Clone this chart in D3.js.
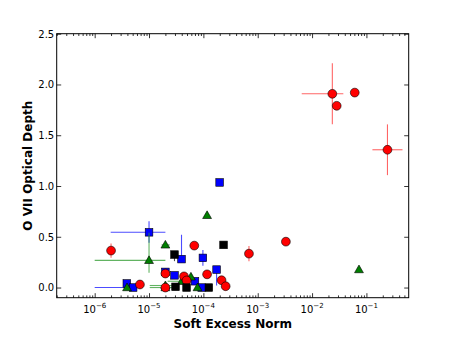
<!DOCTYPE html>
<html>
<head>
<meta charset="utf-8">
<script src="https://cdn.jsdelivr.net/npm/d3@7"></script>
<style>
  html, body { margin: 0; padding: 0; background: #fff; }
  svg { display: block; font-family: "DejaVu Sans", sans-serif; }
</style>
</head>
<body>
<svg id="chart" width="454" height="341"></svg>
<script>
// ---------- data ----------
const xTickValues = [1e-6, 1e-5, 1e-4, 1e-3, 1e-2, 1e-1];
const yTickValues = [0.0, 0.5, 1.0, 1.5, 2.0, 2.5];
const yTickLabels = ["0.0", "0.5", "1.0", "1.5", "2.0", "2.5"];

// blue squares
const blueX = [1e-5, 3.9e-6, 5.1e-6, 2e-5, 2.94e-5, 3.96e-5, 9.8e-5, 1.75e-4, 1.99e-4, 7e-5, 9.3e-5];
const blueY = [0.544, 0.04, 0.0, 0.154, 0.12, 0.28, 0.292, 0.177, 1.035, 0.062, 0.0];
const blueXErr = [[1.97e-6, 2e-5], null, [1e-6, 5.1e-6], null, null, null, [8.8e-5, 1.08e-4], null, null, null, null];
const blueYErr = [[0.44, 0.652], null, null, null, null, [0.25, 0.52], [0.215, 0.37], [0.02, 0.177], null, null, null];

// green triangles
const greenX = [1e-5, 2e-5, 1.17e-4, 3.94e-6, 7.8e-5, 5.9e-5, 4e-5, 2e-5, 2e-5, 0.073];
const greenY = [0.268, 0.42, 0.711, 0.0, 0.0, 0.105, 0.062, 0.0, 0.02, 0.177];
const greenXErr = [[1e-6, 2e-5], [1.7e-5, 2.4e-5], null, null, null, null, [2.2e-5, 4e-5], [1.03e-5, 2.9e-5], [1.03e-5, 2.9e-5], null];
const greenYErr = [[0.145, 0.54], null, null, null, null, null, null, null, null, null];

// red circles
const redX = [2e-6, 6.8e-6, 2e-5, 2e-5, 4.4e-5, 4.9e-5, 6.8e-5, 1.17e-4, 2.16e-4, 2.57e-4, 6.9e-4, 3.3e-3, 0.0236, 0.0284, 0.061, 0.244];
const redY = [0.364, 0.03, 0.138, 0.0, 0.11, 0.07, 0.413, 0.13, 0.072, 0.013, 0.334, 0.452, 1.908, 1.79, 1.92, 1.357];
const redXErr = [null, null, null, null, null, null, null, null, null, null, null, null, [0.00645, 0.0376], null, null, [0.129, 0.461]];
const redYErr = [[0.294, 0.434], [0.0, 0.06], null, null, null, null, null, null, null, null, [0.259, 0.409], null, [1.608, 2.208], null, null, [1.107, 1.607]];

// black squares
const blackX = [2.94e-5, 2.35e-4, 3.07e-5, 4.9e-5, 1.26e-4];
const blackY = [0.325, 0.42, 0.007, 0.0, 0.0];
const blackXErr = [null, null, null, null, null];
const blackYErr = [[0.26, 0.36], null, null, null, null];

// ---------- layout ----------
const svg = d3.select("#chart");
const L = 56.7, R = 408.7, T = 33.7, B = 297.7;
const x = d3.scaleLog().domain([2e-7, 0.6]).range([L, R]);
const y = d3.scaleLinear().domain([-0.1, 2.5]).range([B, T]);

const plot = svg.append("g");
plot.append("defs").append("clipPath").attr("id", "clip")
  .append("rect").attr("x", L).attr("y", T).attr("width", R - L).attr("height", B - T);
const marks = plot.append("g").attr("clip-path", "url(#clip)");

function series(xs, ys, xe, ye, color, errColor, errOpacity, shape) {
  const data = xs.map((v, i) => ({ x: v, y: ys[i], xe: xe[i], ye: ye[i] }));
  const g = marks.append("g");
  const eg = g.append("g").attr("stroke", errColor).attr("stroke-width", 1.1).attr("opacity", errOpacity);
  data.forEach(d => {
    if (d.xe) eg.append("line").attr("x1", x(d.xe[0])).attr("x2", x(d.xe[1])).attr("y1", y(d.y)).attr("y2", y(d.y));
    if (d.ye) eg.append("line").attr("x1", x(d.x)).attr("x2", x(d.x)).attr("y1", y(d.ye[0])).attr("y2", y(d.ye[1]));
  });
  const mg = g.append("g").attr("fill", color).attr("stroke", "#000").attr("stroke-width", 0.6);
  if (shape === "circle") {
    mg.selectAll("circle").data(data).join("circle")
      .attr("cx", d => x(d.x)).attr("cy", d => y(d.y)).attr("r", 4.4);
  } else if (shape === "square") {
    const s = 7.6;
    mg.selectAll("rect").data(data).join("rect")
      .attr("x", d => x(d.x) - s / 2).attr("y", d => y(d.y) - s / 2).attr("width", s).attr("height", s);
  } else {
    const sym = d3.symbol().type(d3.symbolTriangle).size(34);
    mg.selectAll("path").data(data).join("path")
      .attr("transform", d => `translate(${x(d.x)},${y(d.y) + 0.6})`).attr("d", sym);
  }
}

series(blueX, blueY, blueXErr, blueYErr, "#0000ff", "#2020ff", 0.8, "square");
series(greenX, greenY, greenXErr, greenYErr, "#007f00", "#2e9a2e", 0.75, "triangle");
series(redX, redY, redXErr, redYErr, "#ff0000", "#ff0000", 0.6, "circle");
series(blackX, blackY, blackXErr, blackYErr, "#000000", "#000000", 0.7, "square");

// ---------- axes ----------
const minorX = [];
for (let e = -7; e <= 0; e++) {
  for (let m = 2; m <= 9; m++) {
    const v = m * Math.pow(10, e);
    if (v >= 2e-7 && v <= 0.6) minorX.push(v);
  }
}

function styleAxis(g) {
  g.select(".domain").remove();
  g.selectAll(".tick line").attr("stroke", "#000").attr("stroke-width", 0.8);
}

// bottom major
const gxB = svg.append("g").attr("transform", `translate(0,${B})`)
  .call(d3.axisBottom(x).tickValues(xTickValues).tickSize(-4.5).tickFormat(() => ""));
styleAxis(gxB);
svg.append("g").attr("transform", `translate(0,${B})`)
  .call(d3.axisBottom(x).tickValues(minorX).tickSize(-2.3).tickFormat(() => "")).call(styleAxis);
// top
svg.append("g").attr("transform", `translate(0,${T})`)
  .call(d3.axisTop(x).tickValues(xTickValues).tickSize(-4.5).tickFormat(() => "")).call(styleAxis);
svg.append("g").attr("transform", `translate(0,${T})`)
  .call(d3.axisTop(x).tickValues(minorX).tickSize(-2.3).tickFormat(() => "")).call(styleAxis);
// left
const gyL = svg.append("g").attr("transform", `translate(${L},0)`)
  .call(d3.axisLeft(y).tickValues(yTickValues).tickSize(-4.5).tickFormat((d, i) => yTickLabels[i]));
styleAxis(gyL);
gyL.selectAll(".tick text").attr("x", -2.5).attr("dy", "0.34em")
  .attr("font-size", 10).attr("font-family", "DejaVu Sans").attr("fill", "#000");
// right
svg.append("g").attr("transform", `translate(${R},0)`)
  .call(d3.axisRight(y).tickValues(yTickValues).tickSize(-4.5).tickFormat(() => "")).call(styleAxis);

// x tick labels with superscripts
const xl = svg.append("g").attr("font-size", 10).attr("fill", "#000").attr("text-anchor", "middle");
xTickValues.forEach(v => {
  const t = xl.append("text").attr("x", x(v)).attr("y", B + 15);
  t.append("tspan").text("10");
  t.append("tspan").attr("dy", "-4.5").attr("font-size", 7).text("\u2212" + Math.round(-Math.log10(v)));
});

// frame
svg.append("rect").attr("x", L).attr("y", T).attr("width", R - L).attr("height", B - T)
  .attr("fill", "none").attr("stroke", "#000").attr("stroke-width", 1);

// axis titles
svg.append("text").attr("x", (L + R) / 2).attr("y", 327.5).attr("text-anchor", "middle")
  .attr("font-size", 12).attr("font-weight", "bold").text("Soft Excess Norm");
svg.append("text").attr("transform", `translate(31.5,${(T + B) / 2}) rotate(-90)`).attr("text-anchor", "middle")
  .attr("font-size", 12).attr("font-weight", "bold").text("O VII Optical Depth");
</script>
</body>
</html>
